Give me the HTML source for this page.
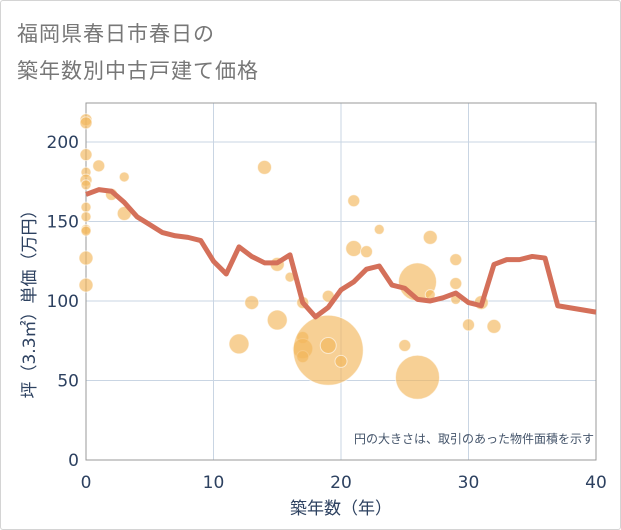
<!DOCTYPE html>
<html><head><meta charset="utf-8">
<style>
html,body{margin:0;padding:0;background:#fff;}
body{width:621px;height:530px;overflow:hidden;}
#frame{position:absolute;left:0;top:0;width:619px;height:528px;border:1px solid #d4d4d4;border-radius:3px;}
.t{position:absolute;left:17px;font:21px "Liberation Sans","Noto Sans CJK JP",sans-serif;color:#777;letter-spacing:1px;}
svg text{font-family:"DejaVu Sans","Noto Sans CJK JP",sans-serif;}
</style></head><body>
<div id="frame"></div>
<div class="t" style="top:18px">福岡県春日市春日の</div>
<div class="t" style="top:55px">築年数別中古戸建て価格</div>
<svg id="c" width="621" height="530" style="position:absolute;left:0;top:0"></svg>
<script>
const xTicks=[0,10,20,30,40];
const yTicks=[0,50,100,150,200];
const lineYears=[0,1,2,3,4,5,6,7,8,9,10,11,12,13,14,15,16,17,18,19,20,21,22,23,24,25,26,27,28,29,30,31,32,33,34,35,36,37,40];
const linePrices=[167,170,169,162,153,148,143,141,140,138,125,117,134,128,124,124,129,99,90,96,107,112,120,122,110,108,101,100,102,105,99,97,123,126,126,128,127,97,93];
const bubbleYears=[0,0,0,0,0,0,0,0,0,0,0,0,1,2,3,3,14,15,16,13,12,15,17,17,17,17,19,19,20,19,21,21,22,23,27,26,27,29,29,29,31,30,32,25,26];
const bubblePrices=[214,212,192,181,176,173,159,153,145,144,127,110,185,167,178,155,184,123,115,99,73,88,99,77,70,65,69,72,62,103,163,133,131,145,140,112,104,126,111,101,99,85,84,72,52];
const bubbleSizes=[6,6,6,5,6,5,5,5,5,5,7,7,6,6,5,7,7,7,5,7,10,10,6,6,10,6,35,8,6,6,6,8,6,5,7,19,5,6,6,5,7,6,7,6,22];
const L=86,R=596,T=103,B=460,XMAX=40,YMAX=224.5;
const sx=v=>L+(R-L)*v/XMAX, sy=v=>B-(B-T)*v/YMAX;
const svg=document.getElementById('c');const NS='http://www.w3.org/2000/svg';
function mk(t,a){const e=document.createElementNS(NS,t);for(const k in a)e.setAttribute(k,a[k]);svg.appendChild(e);return e;}
xTicks.forEach(v=>{if(v>0&&v<40){const g=mk('line',{x1:sx(v),x2:sx(v),y1:T,y2:B,stroke:'#c9d5e3','stroke-width':1});

}
const t=mk('text',{x:sx(v),y:488,'text-anchor':'middle','font-size':17,fill:'#2d4160'});t.textContent=v;

});
yTicks.forEach(v=>{if(v>0){const g=mk('line',{x1:L,x2:R,y1:sy(v),y2:sy(v),stroke:'#c9d5e3','stroke-width':1});

}
const t=mk('text',{x:79,y:sy(v)+6,'text-anchor':'end','font-size':17,fill:'#2d4160'});t.textContent=v;

});
const fr=mk('rect',{x:L,y:T,width:R-L,height:B-T,fill:'none',stroke:'#999','stroke-width':1});


bubbleYears.forEach((yr,i)=>{const c=mk('circle',{cx:sx(yr),cy:sy(bubblePrices[i]),r:bubbleSizes[i],fill:'rgba(242,183,92,0.65)',stroke:'rgba(255,255,255,0.6)','stroke-width':1});

});
const p=mk('polyline',{points:lineYears.map((y,i)=>sx(y)+','+sy(linePrices[i])).join(' '),fill:'none',stroke:'#d4705a','stroke-width':5,'stroke-linejoin':'round'});


const n=mk('text',{x:594,y:443,'text-anchor':'end','font-size':12,fill:'#44546a'});n.textContent='円の大きさは、取引のあった物件面積を示す';


const xt=mk('text',{x:341,y:514,'text-anchor':'middle','font-size':17,fill:'#2d4160'});xt.textContent='築年数（年）';


const yt=mk('text',{x:0,y:0,'text-anchor':'middle','font-size':17,fill:'#2d4160',transform:'translate(35,300) rotate(-90)'});yt.textContent='坪（3.3㎡）単価（万円）';


</script>
</body></html>
